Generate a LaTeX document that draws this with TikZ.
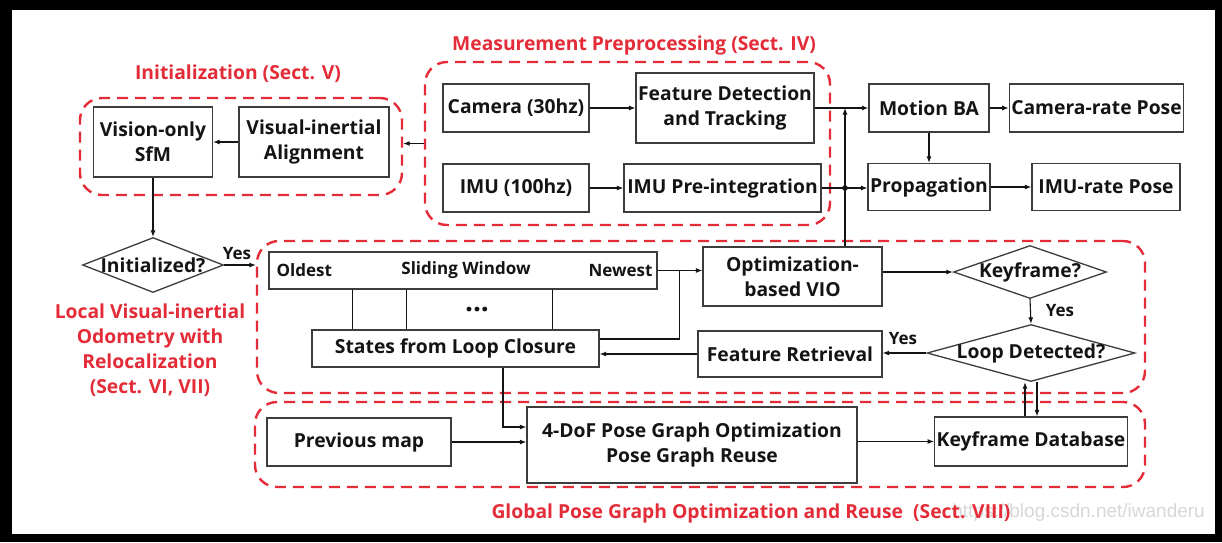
\documentclass[tikz,border=0pt]{standalone}
\usepackage{fontspec}
\setmainfont{Open Sans}
\newfontfamily\wmfont{Liberation Sans}
\usetikzlibrary{arrows.meta,shapes.geometric,calc}
\definecolor{secred}{RGB}{228,44,56}
\definecolor{boxline}{RGB}{60,60,60}
\definecolor{inkc}{RGB}{20,20,20}
\definecolor{wmgray}{RGB}{215,215,215}
\newcommand\boxfont{\bfseries\fontsize{19.3}{25}\selectfont}
\newcommand\smallbold{\bfseries\fontsize{17}{20}\selectfont}

\begin{document}
\begin{tikzpicture}[x=1pt,y=-1pt,
  box/.style={draw=boxline, line width=1.3pt, fill=white, inner sep=2pt,
    align=center, text=inkc, font=\boxfont},
  dia/.style={shape=diamond, draw=boxline, line width=1.3pt, fill=white,
    inner sep=0pt, text=inkc, font=\boxfont},
  group/.style={draw=secred, line width=2.4pt, dash pattern=on 11pt off 7pt,
    rounded corners=22pt},
  grouplabel/.style={text=secred, font=\boxfont, align=center},
  tag/.style={text=inkc, font=\smallbold, inner sep=0pt},
  link/.style={draw=inkc, line width=1.1pt},
  flow/.style={link, -{Latex[length=6.5pt,width=5pt]}}
]
\useasboundingbox (0,0) rectangle (1222,542);
% frame
\fill[black] (0,0) rectangle (1222,542);
\fill[white] (12,10) rectangle (1215,534);

% dashed section frames
\node[group, minimum width=322pt, minimum height=97pt] (initg) at (241,146.5) {};
\node[group, minimum width=405pt, minimum height=163pt] (measg) at (627.5,143.5) {};
\node[group, minimum width=888pt, minimum height=152pt] (localg) at (701,317) {};
\node[group, minimum width=890pt, minimum height=85pt] (globalg) at (700,444.5) {};

% section titles
\node[grouplabel] (initt) at (238,74) {Initialization (Sect. V)};
\node[grouplabel] (meast) at (634,45) {Measurement Preprocessing (Sect. IV)};
\node[grouplabel] (localt) at (150,350) {Local Visual-inertial\\Odometry with\\Relocalization\\(Sect. VI, VII)};
\node[text=wmgray, font=\wmfont\fontsize{19}{22}\selectfont, anchor=east, inner sep=0pt] (wm) at (1205,513) {https://blog.csdn.net/iwanderu};
\node[grouplabel] (globalt) at (751,513) {Global Pose Graph Optimization and Reuse\ \ (Sect. VIII)};

% initialization
\node[box, minimum width=119pt, minimum height=70pt] (sfm) at (153,142) {Vision-only\\SfM};
\node[box, minimum width=150pt, minimum height=70pt] (align) at (314,142) {Visual-inertial\\Alignment};

% measurement preprocessing
\node[box, minimum width=146pt, minimum height=48pt] (cam) at (516,108) {Camera (30hz)};
\node[box, minimum width=174pt, minimum height=70pt] (feat) at (725,108) {Feature Detection\\and Tracking};
\node[box, minimum width=146pt, minimum height=48pt] (imu) at (516,188) {IMU (100hz)};
\node[box, minimum width=197pt, minimum height=48pt] (preint) at (722.5,188) {IMU Pre-integration};

% outputs
\node[box, minimum width=120pt, minimum height=48pt] (mba) at (929,108) {Motion BA};
\node[box, minimum width=173pt, minimum height=48pt] (crp) at (1096.5,108) {Camera-rate Pose};
\node[box, minimum width=120pt, minimum height=47pt] (prop) at (929,187) {Propagation};
\node[box, minimum width=148pt, minimum height=47pt] (imurp) at (1106,187) {IMU-rate Pose};

% local VIO
\node[dia, minimum width=141pt, minimum height=55pt] (init) at (153,265) {\makebox[0pt]{Initialized?}};
\node[box, minimum width=388pt, minimum height=37pt] (sw) at (463,270.5) {};
\node[tag, anchor=west] (oldest) at ([xshift=8pt]sw.west) {Oldest};
\node[tag] (swname) at ([xshift=3pt]sw.center) {Sliding Window};
\node[tag, anchor=east] (newest) at ([xshift=-5pt]sw.east) {Newest};
\node[box, minimum width=287pt, minimum height=37pt] (states) at (455.5,348.5) {States from Loop Closure};
\node[text=inkc, font=\bfseries\fontsize{28}{28}\selectfont, inner sep=0pt] (dots) at (477,310) {...};
\node[box, minimum width=179pt, minimum height=59pt] (vio) at (792.5,276.5) {Optimization-\\based VIO};
\node[dia, minimum width=153pt, minimum height=53pt] (kf) at (1030,272) {\makebox[0pt]{Keyframe?}};
\node[dia, minimum width=208pt, minimum height=57pt] (loop) at (1031,353) {\makebox[0pt]{Loop Detected?}};
\node[box, minimum width=184pt, minimum height=46pt] (fr) at (790,354) {Feature Retrieval};

% global pose graph
\node[box, minimum width=184pt, minimum height=48pt] (prev) at (359,442) {Previous map};
\node[box, minimum width=330pt, minimum height=76pt] (pgo) at (692,445) {4-DoF Pose Graph Optimization\\Pose Graph Reuse};
\node[box, minimum width=190pt, minimum height=49pt] (kd) at (1031,441.5) {Keyframe Database};

% connectors: initialization and preprocessing
\draw[flow] (align.west) -- (sfm.east);
\draw[flow] (measg.west) -- (measg.west -| initg.east);
\draw[flow] (sfm.south) -- (init.north);
\draw[flow] (cam.east) -- (feat.west |- cam.east);
\draw[flow] (imu.east) -- (preint.west);
\draw[flow] (feat.east) -- (mba.west);
\draw[flow] (preint.east) -- (preint.east -| prop.west);
\draw[flow] (mba.south) -- (prop.north);
\draw[flow] (mba.east) -- (crp.west);
\draw[flow] (prop.east) -- (imurp.west);

% VIO feedback to the propagation/motion stage
\coordinate (vioup) at ([xshift=52.5pt]vio.north);
\draw[flow] (vioup) -- (vioup |- feat.east);
\fill[inkc] (vioup |- preint.east) circle (2.8pt);

% local VIO loop
\draw[flow] (init.east) -- (init.east -| localg.west);
\node[tag, anchor=south] (yes1) at (237,260) {Yes};
\coordinate (swjoin) at ([xshift=22pt]sw.east);
\draw[flow] (sw.east) -- (sw.east -| vio.west);
\draw[link] ([yshift=9.5pt]states.east) -| (swjoin);
\foreach \dx in {84,138,284}
  \draw[link] ([xshift=\dx pt]sw.south west) -- ([xshift=\dx pt]sw.south west |- states.north);
\draw[flow] (vio.east |- kf.west) -- (kf.west);
\draw[flow] (kf.south) -- (loop.north);
\node[tag] (yes2) at (1060,311) {Yes};
\draw[flow] (loop.west) -- (loop.west -| fr.east);
\node[tag] (yes3) at (903,339) {Yes};
\draw[flow] (fr.west) -- (fr.west -| states.east);

% global pose graph links
\draw[flow] ([xshift=47.5pt]states.south) |- ([yshift=18pt]pgo.west);
\draw[flow] (prev.east) -- (prev.east -| pgo.west);
\draw[flow] (pgo.east |- kd.west) -- (kd.west);
\draw[flow] ([xshift=-6pt]kd.north) -- ([xshift=-6pt]kd.north |- loop.south);
\draw[flow] ([xshift=6pt]kd.north |- loop.south) -- ([xshift=6pt]kd.north);
\end{tikzpicture}
\end{document}
